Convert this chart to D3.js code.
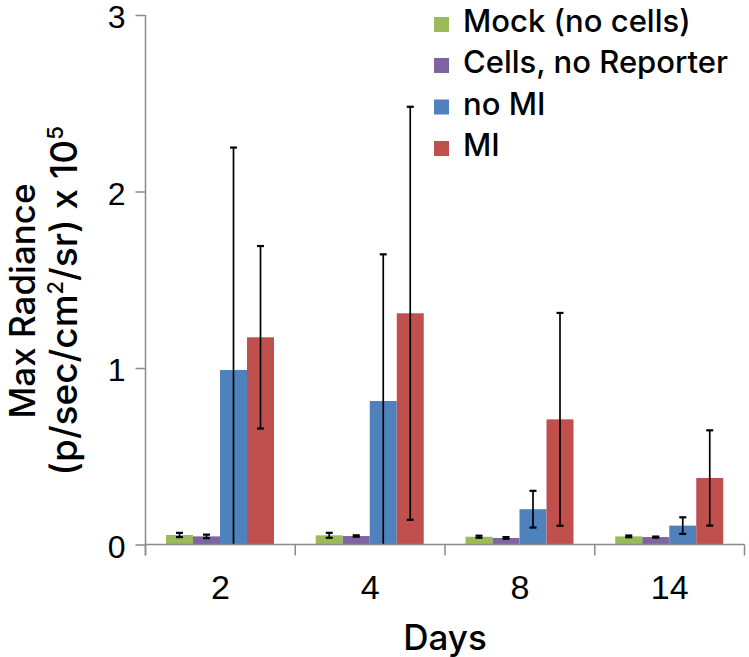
<!DOCTYPE html>
<html>
<head>
<meta charset="utf-8">
<script src="https://cdn.jsdelivr.net/npm/d3@7"></script>
<style>
  html, body { margin: 0; padding: 0; background: #fff; }
  svg { display: block; font-family: Inter, "Liberation Sans", Arial, sans-serif; font-weight: 500; }
</style>
</head>
<body>
<svg id="chart" width="749" height="657"></svg>
<script>
// ---- data ----
const days = ["2", "4", "8", "14"];
const seriesNames = ["Mock (no cells)", "Cells, no Reporter", "no MI", "MI"];
const seriesColors = ["#9BBB59", "#8064A2", "#4F81BD", "#C0504D"];
const mockVals  = [0.054, 0.052, 0.044, 0.046];
const mockErr   = [0.012, 0.014, 0.006, 0.005];
const cellsVals = [0.046, 0.048, 0.037, 0.042];
const cellsErr  = [0.010, 0.004, 0.005, 0.003];
const noMIVals  = [0.989, 0.813, 0.200, 0.107];
const noMIErr   = [1.26, 0.831, 0.104, 0.047];
const miVals    = [1.174, 1.31, 0.709, 0.377];
const miErr     = [0.517, 1.17, 0.603, 0.27];
const yTicks = [0, 1, 2, 3];
const xTitle = "Days";

const allVals = [mockVals, cellsVals, noMIVals, miVals];
const allErr = [mockErr, cellsErr, noMIErr, miErr];

// ---- layout ----
const svg = d3.select("#chart");
const axisColor = "#8a8a8a";

const y = d3.scaleLinear().domain([0, 3]).range([544.5, 15]);
const x = d3.scaleBand().domain(days).range([145.5, 744.5]).paddingInner(0).paddingOuter(0);
const xs = d3.scaleBand().domain(seriesNames).range([20.5, 128.5]).padding(0);

const rows = [];
days.forEach((d, i) => {
  seriesNames.forEach((s, j) => {
    rows.push({ day: d, series: s, color: seriesColors[j], v: allVals[j][i], e: allErr[j][i] });
  });
});

// bars
svg.append("g").selectAll("rect").data(rows).join("rect")
  .attr("x", d => x(d.day) + xs(d.series))
  .attr("width", xs.bandwidth())
  .attr("y", d => y(d.v))
  .attr("height", d => y(0) - y(d.v))
  .attr("fill", d => d.color);

// error bars
const eg = svg.append("g").attr("stroke", "#000").attr("stroke-width", 1.7).attr("fill", "none");
rows.forEach(d => {
  const cx = x(d.day) + xs(d.series) + xs.bandwidth() / 2;
  const hi = d.v + d.e;
  const lo = Math.max(0, d.v - d.e);
  eg.append("line").attr("x1", cx).attr("x2", cx).attr("y1", y(hi)).attr("y2", y(lo));
  eg.append("line").attr("x1", cx - 3.5).attr("x2", cx + 3.5).attr("y1", y(hi)).attr("y2", y(hi)).attr("stroke-width", 2.2);
  if (d.v - d.e > 0) {
    eg.append("line").attr("x1", cx - 3.5).attr("x2", cx + 3.5).attr("y1", y(lo)).attr("y2", y(lo)).attr("stroke-width", 2.2);
  }
});

// y axis
const yAxis = svg.append("g").attr("transform", `translate(${x.range()[0]},0)`)
  .call(d3.axisLeft(y).tickValues(yTicks).tickFormat(d3.format("d")).tickSize(10).tickPadding(10));
yAxis.select(".domain").remove();
yAxis.selectAll(".tick line").attr("stroke", axisColor).attr("stroke-width", 1.5);
yAxis.selectAll(".tick text").attr("font-size", 32).attr("fill", "#000").attr("font-family", null)
  .attr("dy", "0.4em");
yAxis.append("line").attr("x1", 0).attr("x2", 0).attr("y1", y(3)).attr("y2", y(0) + 11)
  .attr("stroke", axisColor).attr("stroke-width", 1.5);

// x axis
const xAxis = svg.append("g").attr("transform", `translate(0,${y(0)})`)
  .call(d3.axisBottom(x).tickSize(0).tickPadding(0));
xAxis.select(".domain").remove();
xAxis.selectAll(".tick text").attr("font-size", 34).attr("fill", "#000")
  .attr("font-family", null).attr("dy", null).attr("y", 54);
xAxis.append("line").attr("x1", x.range()[0]).attr("x2", x.range()[1]).attr("y1", 0).attr("y2", 0)
  .attr("stroke", axisColor).attr("stroke-width", 1.5);
const bounds = days.map(d => x(d)).concat([x.range()[1]]);
xAxis.selectAll(".bound").data(bounds).join("line").attr("class", "bound")
  .attr("x1", d => d).attr("x2", d => d).attr("y1", 0).attr("y2", 11)
  .attr("stroke", axisColor).attr("stroke-width", 1.5);

// x title
svg.append("text")
  .attr("x", (x.range()[0] + x.range()[1]) / 2)
  .attr("y", 650)
  .attr("text-anchor", "middle")
  .attr("font-size", 35)
  .text(xTitle);

// y title (two lines, rotated)
const cy = 301;
const yt = svg.append("g").attr("transform", `translate(35,${cy}) rotate(-90)`);
yt.append("text").attr("text-anchor", "middle").attr("font-size", 35).text("Max Radiance");
const t2 = svg.append("g").attr("transform", `translate(77,${cy}) rotate(-90)`)
  .append("text").attr("text-anchor", "middle").attr("font-size", 37);
t2.append("tspan").text("(p/sec/cm");
t2.append("tspan").attr("font-size", 22).attr("dy", -14).text("2");
t2.append("tspan").attr("dy", 14).text("/sr) x 10");
t2.append("tspan").attr("font-size", 22).attr("dy", -14).text("5");

// legend
const lg = svg.append("g");
const baselines = [32, 73, 114.5, 156];
seriesNames.forEach((s, i) => {
  lg.append("rect").attr("x", 434).attr("y", baselines[i] - 15).attr("width", 15).attr("height", 15)
    .attr("fill", seriesColors[i]);
  lg.append("text").attr("x", 463).attr("y", baselines[i]).attr("font-size", 31).text(s);
});
</script>
</body>
</html>
